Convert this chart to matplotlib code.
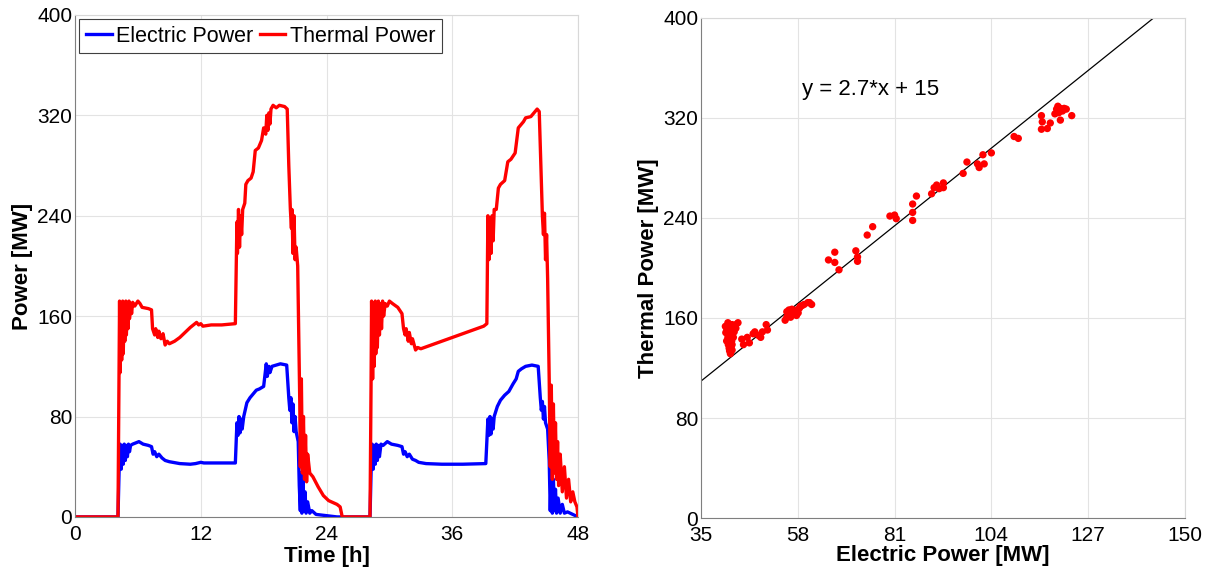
import numpy as np
import matplotlib
matplotlib.use("Agg")
import matplotlib.pyplot as plt

plt.rcParams['font.family'] = ['Liberation Sans', 'DejaVu Sans']

# time [h] / electric power [MW]
t_el = [0, 4.1, 4.2, 4.3, 4.4, 4.5, 4.6, 4.7, 4.8, 4.9, 5.0, 5.1, 5.2, 5.3, 5.5, 5.8, 6.1, 6.5,
        7.0, 7.3, 7.45, 7.6, 7.8, 8.0, 8.3, 8.6, 9.0, 10.0, 11.0, 11.5, 12.0, 12.3, 13.0, 14.0,
        15.3, 15.45, 15.55, 15.65, 15.75, 15.85, 15.95, 16.1, 16.4, 16.7, 17.0, 17.3, 17.6, 18.0,
        18.25, 18.35, 18.5, 18.6, 18.8, 19.2, 19.6, 20.2, 20.4, 20.5, 20.6, 20.7, 20.8, 20.9,
        21.0, 21.1, 21.3, 21.4, 21.5, 21.55, 21.65, 21.75, 21.85, 21.95, 22.05, 22.2, 22.4, 22.6,
        23.0, 24.0, 25.0, 28.15,
        28.25, 28.35, 28.45, 28.55, 28.65, 28.75, 28.85, 28.95, 29.05, 29.2, 29.4, 29.8, 30.2,
        30.8, 31.2, 31.35, 31.5, 31.7, 31.9, 32.2, 32.5, 32.8, 33.5, 35.0, 37.0, 39.2, 39.4,
        39.5, 39.6, 39.7, 39.8, 39.9, 40.0, 40.3, 40.6, 41.0, 41.4, 41.8, 42.1, 42.3, 42.6, 43.0,
        43.6, 44.2, 44.4, 44.5, 44.6, 44.7, 44.8, 44.9, 45.1, 45.25, 45.35, 45.45, 45.55, 45.65,
        45.75, 45.85, 45.95, 46.1, 46.3, 46.5, 46.7, 47.0, 47.5, 48.0]
p_el = [0, 0, 35, 58, 38, 57, 42, 58, 45, 57, 48, 58, 52, 57, 58, 59, 60, 58,
        57, 56, 50, 52, 48, 50, 47, 45, 44, 42.5, 42, 42.5, 43.5, 43, 43, 43,
        43, 75, 65, 80, 67, 78, 70, 80, 91, 95, 98, 101, 102, 104,
        122, 112, 120, 115, 120, 121, 122, 121, 95, 85, 95, 75, 90, 68,
        80, 68, 60, 25, 5, 35, 3, 30, 5, 20, 3, 12, 3, 5,
        2, 1, 0, 0,
        35, 58, 38, 57, 42, 58, 45, 57, 48, 58, 57, 60, 58,
        57, 56, 50, 52, 48, 50, 46, 45, 43.5, 42.5, 42, 42, 42.5, 78,
        65, 80, 66, 78, 70, 80, 88, 93, 97, 100, 106, 110, 116, 118, 120,
        121, 120, 95, 85, 92, 78, 88, 75, 70, 45, 5, 35, 3, 30,
        5, 22, 3, 15, 3, 10, 3, 4, 2, 0]

# time [h] / thermal power [MW]
t_th = [0, 4.1, 4.2, 4.25, 4.3, 4.4, 4.45, 4.55, 4.6, 4.7, 4.75, 4.85, 4.9, 5.0, 5.05, 5.15,
        5.2, 5.3, 5.4, 5.5, 5.7, 6.0, 6.2, 6.4, 7.0, 7.3, 7.4, 7.6, 7.7, 7.9, 8.0, 8.2, 8.4,
        8.6, 8.8, 9.0, 9.5, 10.0, 10.5, 11.0, 11.6, 11.8, 12.0, 12.2, 13.0, 14.0, 15.3, 15.45,
        15.5, 15.6, 15.7, 15.8, 15.9, 16.0, 16.2, 16.3, 16.5, 16.8, 17.0, 17.2, 17.5, 17.8,
        18.0, 18.2, 18.3, 18.4, 18.5, 18.6, 18.7, 18.9, 19.2, 19.5, 20.0, 20.25, 20.4, 20.55,
        20.65, 20.7, 20.8, 20.9, 21.0, 21.1, 21.25, 21.45, 21.5, 21.6, 21.7, 21.8, 21.9, 22.0,
        22.1, 22.2, 22.4, 22.7, 23.2, 23.7, 24.2, 25.0, 25.3, 25.5, 28.15,
        28.25, 28.3, 28.4, 28.5, 28.55, 28.65, 28.7, 28.8, 28.85, 28.95, 29.05, 29.15, 29.25,
        29.35, 29.45, 29.6, 29.8, 30.0, 30.3, 30.8, 31.2, 31.35, 31.5, 31.6, 31.8, 31.9, 32.1,
        32.2, 32.5, 32.7, 33.0, 34.0, 35.0, 36.0, 37.0, 38.0, 39.0, 39.3, 39.4, 39.5, 39.6,
        39.7, 39.8, 39.9, 40.0, 40.2, 40.4, 40.6, 41.0, 41.3, 41.6, 42.0, 42.3, 42.5, 42.8,
        43.0, 43.5, 43.8, 44.1, 44.3, 44.45, 44.6, 44.7, 44.8, 44.9, 45.0, 45.1, 45.25, 45.35,
        45.45, 45.55, 45.65, 45.75, 45.85, 45.95, 46.05, 46.15, 46.3, 46.5, 46.7, 46.9, 47.1,
        47.3, 47.5, 47.7, 47.9, 48.0]
p_th = [0, 0, 110, 172, 115, 170, 125, 172, 130, 168, 140, 172, 145, 170, 150, 172,
        158, 170, 162, 171, 168, 172, 170, 167, 166, 165, 150, 145, 150, 143, 148, 142, 146,
        137, 140, 138, 140, 143, 147, 151, 155, 153, 154, 152, 153, 153, 154, 235,
        210, 245, 215, 240, 225, 245, 250, 265, 268, 270, 275, 292, 294, 300,
        310, 305, 320, 308, 322, 313, 325, 328, 326, 328, 327, 325, 280, 245,
        230, 245, 210, 240, 205, 215, 200, 90, 40, 110, 35, 80, 30, 65,
        28, 50, 35, 32, 24, 17, 13, 10, 8, 0, 0,
        105, 172, 110, 170, 120, 172, 130, 168, 135, 172, 145, 170, 150,
        172, 160, 170, 168, 172, 170, 167, 162, 150, 145, 150, 140, 147, 138,
        142, 133, 135, 134, 137, 140, 143, 146, 149, 152, 154, 240, 205, 238,
        210, 240, 220, 245, 245, 262, 265, 268, 283, 285, 290, 310, 312, 315,
        318, 319, 322, 325, 323, 280, 240, 225, 242, 205, 225, 190, 110, 40,
        105, 30, 90, 35, 75, 30, 60, 25, 50, 20, 40, 15, 30,
        12, 20, 12, 8, 0]

# electric vs thermal operating points [MW]
sc_el = [40.8, 41.1, 41.3, 40.9, 41.5, 41.4, 41.7, 41.1, 42.0, 41.5, 42.2, 41.7, 41.8, 42.0,
         42.4, 42.4, 42.3, 42.7, 42.4, 42.1, 42.9, 42.4, 43.3, 43.8, 41.7, 41.4, 42.9, 42.4,
         43.3, 41.5, 44.7, 45.1, 46.5, 46.0, 47.8, 48.7, 49.2, 50.5, 50.8, 47.4, 49.6,
         55.0, 55.4, 55.9, 56.3, 56.8, 55.9, 57.2, 57.7, 58.1, 58.4, 58.6, 59.5, 60.4, 60.8,
         61.3, 59.0, 56.3, 57.0, 57.7, 55.4, 56.6,
         65.3, 66.8, 66.8, 67.8, 71.8, 72.2, 72.2, 74.5, 75.8, 79.9, 81.0, 81.4, 85.3, 85.3,
         85.3, 86.2, 89.8, 90.4, 91.0, 91.6, 92.6, 92.6, 97.3, 98.2, 100.7, 101.1, 102.0,
         102.3, 104.0, 109.4, 110.4, 115.9, 115.9, 116.1, 117.3, 118.0, 119.1, 119.5, 119.8,
         120.4, 120.9, 120.4, 121.8, 123.1, 120.0, 121.3]
sc_th = [153.3, 151.8, 150.4, 148.3, 147.4, 144.5, 143.1, 141.6, 140.1, 138.7, 137.2, 135.8,
         133.7, 131.4, 134.3, 138.7, 141.6, 144.5, 147.4, 150.4, 153.3, 154.7, 154.7, 156.2,
         154.7, 156.2, 148.9, 151.8, 151.8, 151.8, 143.1, 138.7, 140.1, 144.5, 148.9, 146.0,
         144.5, 154.7, 150.4, 147.4, 148.9,
         158.2, 160.6, 162.0, 163.5, 165.0, 166.4, 165.0, 166.4, 164.1, 167.9, 169.3, 170.8,
         172.3, 172.3, 170.8, 169.9, 160.6, 162.9, 162.0, 165.0, 167.0,
         206.4, 212.6, 204.4, 198.5, 213.7, 208.8, 205.3, 226.3, 233.0, 241.5, 242.3, 239.4,
         251.1, 244.4, 238.0, 257.5, 259.3, 264.2, 266.3, 263.4, 264.2, 268.0, 275.6, 284.7,
         283.2, 280.3, 290.5, 283.2, 292.0, 305.1, 303.6, 321.8, 310.9, 316.8, 311.5, 315.9,
         323.2, 327.0, 329.3, 327.6, 325.5, 318.2, 327.0, 321.8, 324.1, 327.6]

fit_a, fit_b = 2.7, 15

fig = plt.figure(figsize=(12.1, 5.75), dpi=100)
ax1 = fig.add_axes([0.062, 0.101, 0.4157, 0.873])
ax2 = fig.add_axes([0.5793, 0.099, 0.4, 0.87])


def style(ax):
    ax.grid(True, color='#e3e3e3', linewidth=0.8)
    ax.set_axisbelow(True)
    for s in ['top', 'right']:
        ax.spines[s].set_color('#d8d8d8')
    for s in ['left', 'bottom']:
        ax.spines[s].set_color('#7f7f7f')
    ax.tick_params(length=0, labelsize=15)
    ax.tick_params(axis='y', pad=2)
    ax.tick_params(axis='x', pad=6)


# left: power time series
ax1.plot(t_el, p_el, color='#0000ff', linewidth=2.4, label='Electric Power')
ax1.plot(t_th, p_th, color='#ff0000', linewidth=2.4, label='Thermal Power')
ax1.set_xlim(0, 48)
ax1.set_ylim(0, 400)
ax1.set_xticks([0, 12, 24, 36, 48])
ax1.set_yticks([0, 80, 160, 240, 320, 400])
ax1.set_xlabel('Time [h]', fontsize=16, fontweight='bold', labelpad=1)
ax1.set_ylabel('Power [MW]', fontsize=16, fontweight='bold', labelpad=3)
style(ax1)
leg = ax1.legend(loc='upper left', ncol=2, fontsize=15.5, fancybox=False, framealpha=1,
                 handlelength=1.2, handletextpad=0.2, columnspacing=0.3, borderpad=0.3,
                 borderaxespad=0.2)
leg.get_frame().set_edgecolor('#404040')
leg.get_frame().set_linewidth(0.8)

# right: thermal vs electric with linear fit
xf = np.array([35, (400 - fit_b) / fit_a])
ax2.plot(xf, fit_a * xf + fit_b, color='black', linewidth=0.9)
ax2.scatter(sc_el, sc_th, s=28, color='#ff0000', edgecolors='none', zorder=3)
ax2.text(59, 343, 'y = %.1f*x + %d' % (fit_a, fit_b), fontsize=16, va='center')
ax2.set_xlim(35, 150)
ax2.set_ylim(0, 400)
ax2.set_xticks([35, 58, 81, 104, 127, 150])
ax2.set_yticks([0, 80, 160, 240, 320, 400])
ax2.set_xlabel('Electric Power [MW]', fontsize=16, fontweight='bold', labelpad=0)
ax2.set_ylabel('Thermal Power [MW]', fontsize=16, fontweight='bold', labelpad=3)
style(ax2)

fig.savefig('out.png', dpi=100)
